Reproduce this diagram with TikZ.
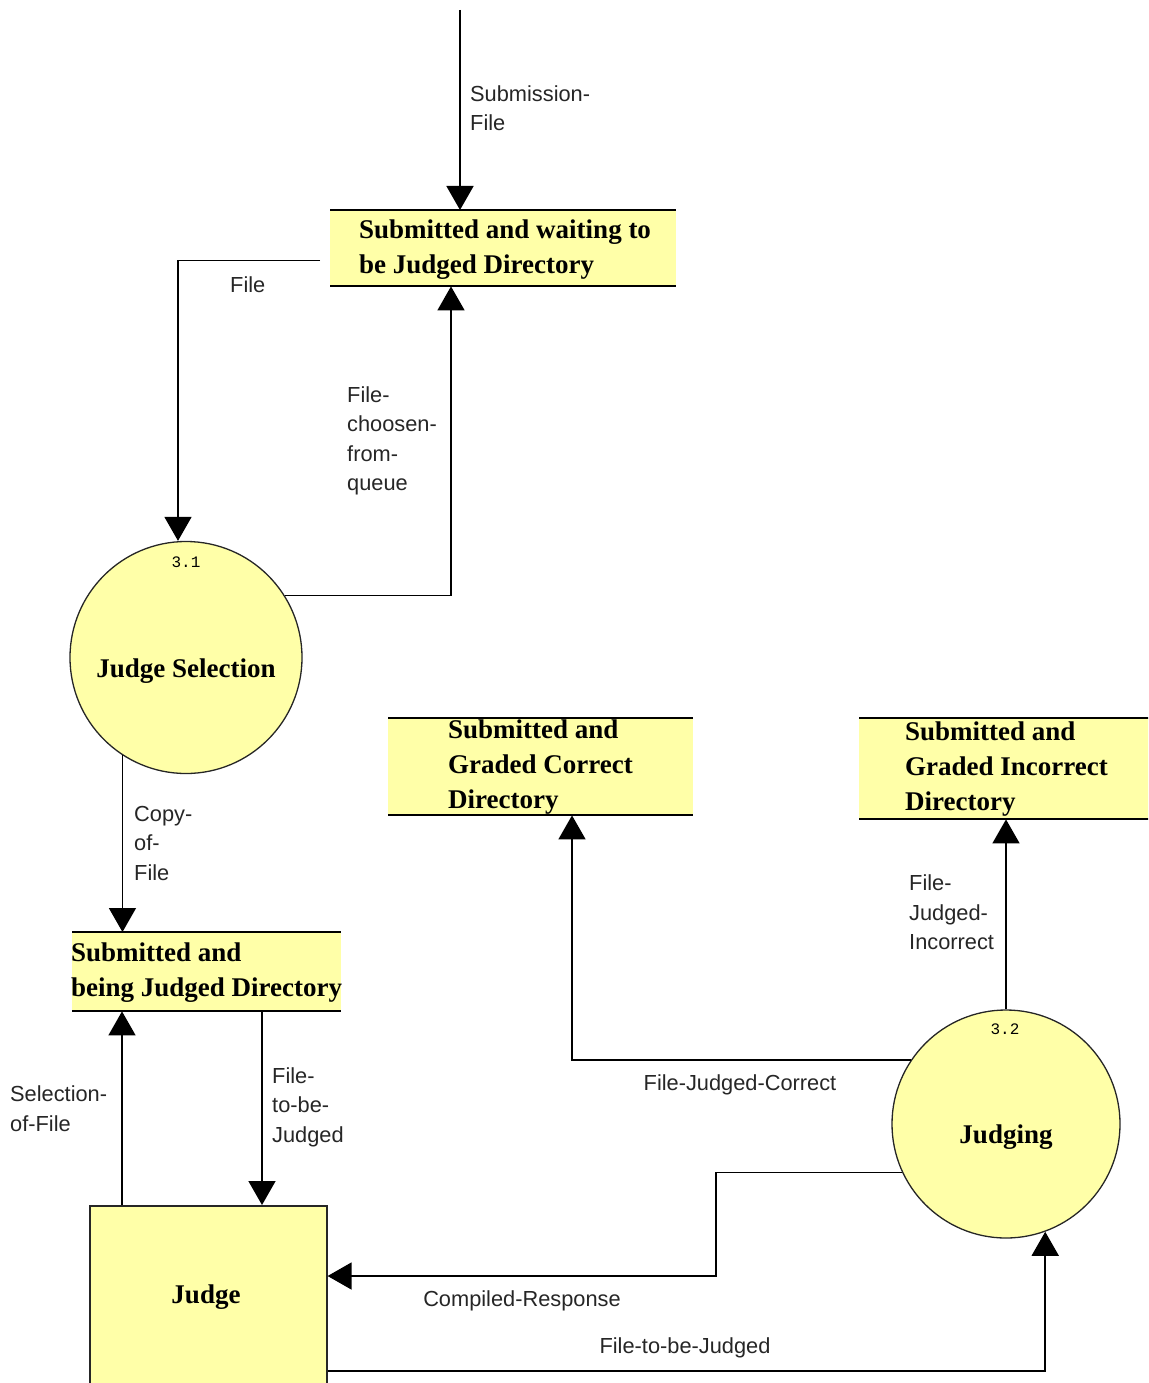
\documentclass[tikz,border=0pt]{standalone}
\usepackage{fontspec}
\setmainfont{Liberation Serif}
\newfontfamily\flowfont{Liberation Sans}
\newfontfamily\numfont{Liberation Mono}
\usetikzlibrary{arrows.meta,calc}
\definecolor{dfdfill}{RGB}{255,255,168}
\begin{document}
\begin{tikzpicture}[x=1pt,y=-1pt,
  flow/.style={line width=1.6pt, -{Triangle[width=27pt,length=24pt]}},
  storebox/.style={fill=dfdfill, inner sep=0, anchor=north west},
  storeline/.style={line width=2pt},
  procbubble/.style={circle, fill=dfdfill, draw=black!85, line width=1.3pt, inner sep=0},
  entitybox/.style={rectangle, fill=dfdfill, draw=black!85, line width=1.6pt, inner sep=0, anchor=north west},
  boxtext/.style={font=\fontsize{27}{35}\selectfont\bfseries, align=left, inner sep=0},
  flowlabel/.style={font=\flowfont\fontsize{21.8}{29.5}\selectfont, align=left, inner sep=0, text=black!85},
  procnum/.style={font=\numfont\fontsize{16}{16}\selectfont, inner sep=0}
]
\useasboundingbox (0,0) rectangle (1148,1383);
\clip (0,0) rectangle (1148,1383);

% data stores
\node[storebox, minimum width=346pt, minimum height=76pt] (s1) at (330,210) {};
\node[storebox, minimum width=305pt, minimum height=97pt] (sc) at (388,718) {};
\node[storebox, minimum width=300pt, minimum height=101pt] (si) at (859,718) {};
\node[storebox, minimum width=269pt, minimum height=79pt] (s3) at (72,932) {};
\foreach \s in {s1,sc,si,s3}
  \draw[storeline] (\s.north west) -- (\s.north east) (\s.south west) -- (\s.south east);

\node[boxtext, anchor=west] (s1t) at (359,249.5) {Submitted and waiting to\\be Judged Directory};
\node[boxtext, anchor=west] (sct) at (448,767.5) {Submitted and\\Graded Correct\\Directory};
\node[boxtext, anchor=west] (sit) at (905,769) {Submitted and\\Graded Incorrect\\Directory};
\node[boxtext, anchor=west] (s3t) at (71,972.5) {Submitted and\\being Judged Directory};

% processes
\node[procbubble, minimum size=232pt] (js) at (186,657.5) {};
\node[procnum] (jsn) at (186,562) {3.1};
\node[boxtext] (jst) at (186,671) {Judge Selection};

\node[procbubble, minimum size=228pt] (jg) at (1006,1124) {};
\node[procnum] (jgn) at (1005,1029) {3.2};
\node[boxtext] (jgt) at (1006,1137) {Judging};

% external entity
\node[entitybox, minimum width=237pt, minimum height=182pt] (jb) at (89,1205) {};
\node[boxtext] (jbt) at (206,1297) {Judge};

% flows
\coordinate (subin) at (460,10);
\draw[flow] (subin) -- (subin |- s1.north);
\node[flowlabel, anchor=west] (l1) at (470,108) {Submission-\\File};

\draw[flow] ($(s1.south west)+(-10,-26)$) -| ($(js.north)+(-8,0)$);
\node[flowlabel, anchor=west] (l2) at (230,284.5) {File};

\draw[flow] (js.32) -| ($(s1.south west)+(121,0)$);
\node[flowlabel, anchor=west] (l3) at (347,441) {File-\\choosen-\\from-\\queue};

\draw[flow] (js.237) -- (js.237 |- s3.north);
\node[flowlabel, anchor=west] (l4) at (134,843) {Copy-\\of-\\File};

\coordinate (selfrom) at ($(jb.north west)+(33,0)$);
\draw[flow] (selfrom) -- (selfrom |- s3.south);
\node[flowlabel, anchor=west] (l5) at (10,1108.5) {Selection-\\of-File};

\coordinate (tbj) at ($(s3.south west)+(190,0)$);
\draw[flow] (tbj) -- (tbj |- jb.north);
\node[flowlabel, anchor=west] (l6) at (272,1107) {File-\\to-be-\\Judged};

\draw[flow] (jg.north) -- (jg.north |- si.south);
\node[flowlabel, anchor=west] (l7) at (909,912.5) {File-\\Judged-\\Incorrect};

\draw[flow] (jg.146) -| ($(sc.south west)+(184,0)$);
\node[flowlabel] (l8) at (740,1085) {File-Judged-Correct};

\draw[flow] (jg.205) -- ++(-186,0) |- ($(jb.north east)+(0,71)$);
\node[flowlabel] (l9) at (522,1301) {Compiled-Response};

\draw[flow] ($(jb.north east)+(0,166)$) -| (jg.290);
\node[flowlabel] (l10) at (685,1348) {File-to-be-Judged};

\end{tikzpicture}
\end{document}
